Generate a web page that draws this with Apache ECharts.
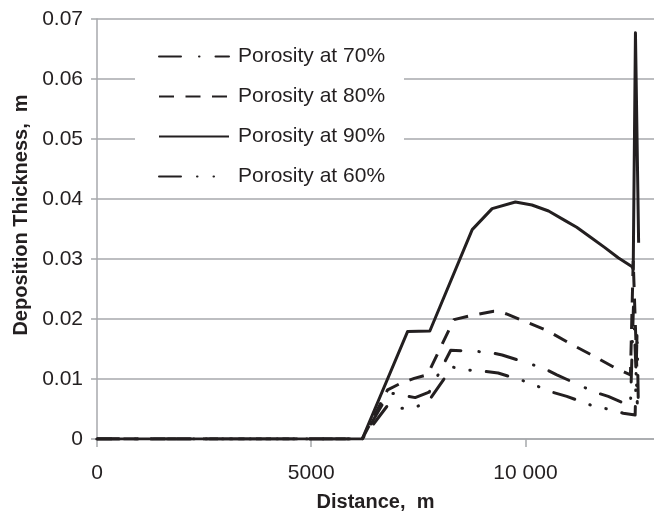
<!DOCTYPE html>
<html><head><meta charset="utf-8">
<script src="https://cdn.jsdelivr.net/npm/echarts@6/dist/echarts.min.js"></script>
<style>html,body{margin:0;padding:0;background:#fff}#c{width:654px;height:517px}</style>
</head><body><div id="c"></div>
<script>
const seriesNames = ['Porosity at 70%', 'Porosity at 80%', 'Porosity at 90%', 'Porosity at 60%'];

const dist70  = [0, 6190, 6820, 7426, 7752, 8256, 8797, 9130, 9455, 10074, 10423, 10732, 11313, 11622, 11932, 12450, 12520, 12610];
const thick70 = [0, 0, 0.0077, 0.0069, 0.0078, 0.0148, 0.0146, 0.0145, 0.0140, 0.0126, 0.0118, 0.0107, 0.0088, 0.0078, 0.0071, 0.0055, 0.0220, 0.0060];

const dist80  = [0, 6190, 6783, 7093, 7403, 7712, 8332, 8681, 9261, 9378, 9571, 9881, 10500, 11043, 11624, 12104, 12450, 12515, 12600];
const thick80 = [0, 0, 0.0082, 0.0093, 0.0101, 0.0107, 0.0199, 0.0205, 0.0213, 0.0213, 0.0208, 0.0199, 0.0181, 0.0159, 0.0137, 0.0118, 0.0107, 0.0297, 0.0115];

const dist90  = [0, 6190, 7248, 7768, 8757, 9222, 9765, 10151, 10539, 10926, 11196, 11544, 11854, 12164, 12490, 12515, 12567, 12641];
const thick90 = [0, 0, 0.0179, 0.0180, 0.0349, 0.0384, 0.0395, 0.0390, 0.0380, 0.0364, 0.0353, 0.0335, 0.0319, 0.0302, 0.0287, 0.0283, 0.0677, 0.0327];

const dist60  = [0, 6190, 6783, 7093, 7403, 7736, 8293, 8642, 9006, 9362, 9997, 10632, 10965, 11584, 11917, 12281, 12560, 12605, 12635];
const thick60 = [0, 0, 0.0056, 0.0051, 0.0052, 0.0063, 0.0120, 0.0115, 0.0113, 0.0110, 0.0096, 0.0078, 0.0071, 0.0055, 0.0050, 0.0043, 0.0040, 0.0180, 0.0055];

const xTickValues = [0, 5000, 10000];
const xTickLabels = ['0', '5000', '10 000'];
const yTickValues = [0, 0.01, 0.02, 0.03, 0.04, 0.05, 0.06, 0.07];
const yTickLabels = ['0', '0.01', '0.02', '0.03', '0.04', '0.05', '0.06', '0.07'];

const FONT = '"Liberation Sans", Arial, sans-serif';
const INK = '#231f20';
const GRID = '#a7a9ac';

function pairs(xs, ys) { return xs.map((x, i) => [x, ys[i]]); }

const styles = [
  { type: [22, 18, 0.5, 16], cap: 'round' },
  { type: [15, 11.5], cap: 'butt' },
  { type: 'solid', cap: 'butt' },
  { type: [22, 16, 0.5, 16, 0.5, 16], cap: 'round' }
];
const dataSets = [pairs(dist70, thick70), pairs(dist80, thick80), pairs(dist90, thick90), pairs(dist60, thick60)];

const chart = echarts.init(document.getElementById('c'), null, { renderer: 'canvas' });
chart.setOption({
  animation: false,
  backgroundColor: '#fff',
  grid: { left: 97, top: 19, bottom: 74, right: 0, containLabel: false },
  xAxis: {
    type: 'value', min: 0, max: 13000, interval: 5000,
    name: 'Distance,  m', nameLocation: 'middle', nameGap: 53,
    nameTextStyle: { fontFamily: FONT, fontSize: 20, fontWeight: 'bold', color: INK },
    axisLine: { show: true, lineStyle: { color: GRID, width: 1.5 } },
    axisTick: { show: true, length: 8, customValues: xTickValues, lineStyle: { color: GRID, width: 1.5 } },
    axisLabel: {
      margin: 24, fontFamily: FONT, fontSize: 21, color: INK, customValues: xTickValues,
      formatter: v => { const i = xTickValues.indexOf(v); return i >= 0 ? xTickLabels[i] : ''; }
    },
    splitLine: { show: false }
  },
  yAxis: {
    type: 'value', min: 0, max: 0.07, interval: 0.01,
    name: 'Deposition Thickness,  m', nameLocation: 'middle', nameGap: 64, nameRotate: 90,
    nameTextStyle: { fontFamily: FONT, fontSize: 20, fontWeight: 'bold', color: INK, padding: [0, 0, 0, 28] },
    axisLine: { show: true, lineStyle: { color: GRID, width: 1.5 } },
    axisTick: { show: true, inside: false, length: 6, lineStyle: { color: GRID, width: 1.5 } },
    axisLabel: {
      margin: 14, fontFamily: FONT, fontSize: 21, color: INK,
      formatter: v => { const i = yTickValues.findIndex(t => Math.abs(t - v) < 1e-9); return i >= 0 ? yTickLabels[i] : ''; }
    },
    splitLine: { show: true, lineStyle: { color: GRID, width: 1.5 } }
  },
  graphic: [{
    type: 'rect', left: 135, top: 30, z: 1,
    shape: { width: 269, height: 166 },
    style: { fill: '#fff' }
  }],
  legend: {
    orient: 'vertical', left: 158, top: 46, padding: 0,
    itemWidth: 70, itemHeight: 14, itemGap: 19,
    data: seriesNames,
    itemStyle: { opacity: 0 },
    textStyle: { fontFamily: FONT, fontSize: 21, lineHeight: 21, color: INK, padding: [0, 0, 0, 4] }
  },
  series: seriesNames.map((name, i) => ({
    name, type: 'line', data: dataSets[i], showSymbol: false, symbol: 'none',
    z: 3,
    lineStyle: { color: INK, width: 3, type: styles[i].type, cap: styles[i].cap, join: 'round' },
    itemStyle: { color: INK }
  }))
});
</script></body></html>
